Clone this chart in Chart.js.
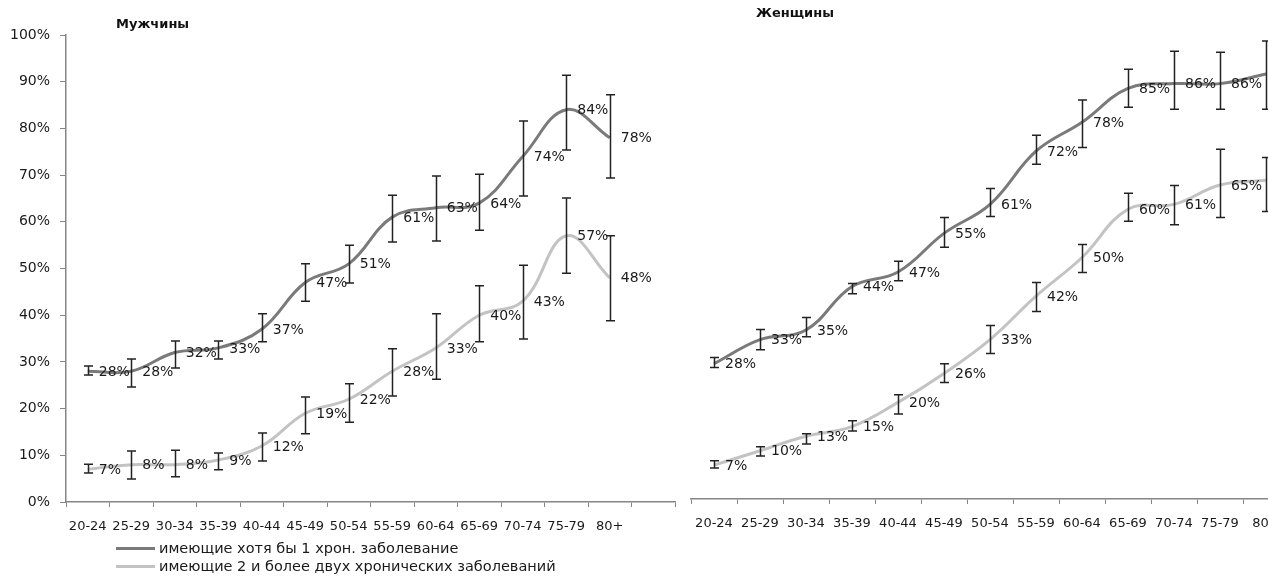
<!DOCTYPE html>
<html lang="ru">
<head>
<meta charset="utf-8">
<title>Распространённость хронических заболеваний по возрасту</title>
<script src="https://cdn.jsdelivr.net/npm/chart.js@4.4.1/dist/chart.umd.min.js"></script>
<style>
  html, body { margin: 0; padding: 0; background: #fff; overflow: hidden; }
  body { width: 1268px; height: 576px; position: relative; font-family: "DejaVu Sans", sans-serif; color: #1a1a1a; }
  .panel { position: absolute; top: 0; height: 576px; }
  #menBox { left: 0; width: 690px; }
  #womenBox { left: 680px; width: 620px; }
  .ttl { position: absolute; font-weight: bold; font-size: 13px; white-space: nowrap; color: #111; }
  .leg { position: absolute; left: 116px; font-size: 14.5px; white-space: nowrap; display: flex; align-items: center; }
  .leg i { display: inline-block; width: 39px; height: 3px; margin-right: 4px; }
</style>
</head>
<body>
<div class="panel" id="menBox"><canvas id="men" width="690" height="576"></canvas></div>
<div class="panel" id="womenBox"><canvas id="women" width="620" height="576"></canvas></div>
<div class="ttl" style="left:116px; top:16px;">Мужчины</div>
<div class="ttl" style="left:756px; top:5px;">Женщины</div>
<div class="leg" style="top:540px;"><i style="background:#7a7a7a"></i>имеющие хотя бы 1 хрон. заболевание</div>
<div class="leg" style="top:558px;"><i style="background:#c3c3c3"></i>имеющие 2 и более двух хронических заболеваний</div>
<script>
// Age groups (men's axis carries one extra empty slot at the end)
const ageGroups = ['20-24','25-29','30-34','35-39','40-44','45-49','50-54','55-59','60-64','65-69','70-74','75-79','80+'];

// Men: share with at least one chronic disease, % (with 95% interval bounds)
const menAny      = [28, 28, 32, 33, 37, 47, 51, 61, 63, 64, 74, 84, 78];
const menAnyLow   = [27.2, 24.6, 28.7, 30.6, 34.3, 43.0, 46.9, 55.7, 55.9, 58.2, 65.5, 75.4, 69.4];
const menAnyHigh  = [29.1, 30.6, 34.5, 34.5, 40.3, 51.0, 55.0, 65.7, 69.8, 70.2, 81.6, 91.4, 87.2];
// Men: two or more chronic diseases, %
const menMulti     = [7, 8, 8, 9, 12, 19, 22, 28, 33, 40, 43, 57, 48];
const menMultiLow  = [6.2, 4.9, 5.4, 6.9, 8.8, 14.6, 17.1, 22.7, 26.3, 34.3, 34.9, 49.0, 38.8];
const menMultiHigh = [8.1, 10.9, 11.1, 10.5, 14.8, 22.5, 25.3, 32.8, 40.3, 46.3, 50.7, 65.1, 57.0];

// Women: share with at least one chronic disease, %
const womenAny      = [28, 33, 35, 44, 47, 55, 61, 72, 78, 85, 86, 86, 88];
const womenAnyLow   = [27.2, 30.9, 33.6, 42.5, 45.2, 52.1, 58.5, 69.3, 72.8, 81.1, 80.7, 80.7, 80.7];
const womenAnyHigh  = [29.3, 35.1, 37.6, 44.6, 49.2, 58.3, 64.3, 75.3, 82.6, 89.0, 92.7, 92.5, 94.8];
// Women: two or more chronic diseases, %
const womenMulti     = [7, 10, 13, 15, 20, 26, 33, 42, 50, 60, 61, 65, 66];
const womenMultiLow  = [6.4, 8.9, 11.4, 14.1, 17.6, 24.1, 30.1, 38.8, 46.9, 57.5, 56.8, 58.3, 59.5];
const womenMultiHigh = [7.9, 10.8, 13.5, 16.2, 21.6, 28.0, 35.9, 44.8, 52.7, 63.3, 64.9, 72.4, 70.7];

const yTicks = [0, 10, 20, 30, 40, 50, 60, 70, 80, 90, 100];

Chart.defaults.font.family = '"DejaVu Sans", sans-serif';
Chart.defaults.color = '#1a1a1a';
Chart.defaults.animation = false;

const AXIS = '#868686';
const DARK = '#7a7a7a';
const LIGHT = '#c3c3c3';

// Interval whiskers with caps, placed through the value scale
const errorBars = {
  id: 'errorBars',
  afterDatasetsDraw(chart) {
    const ctx = chart.ctx, y = chart.scales.y;
    ctx.save();
    ctx.strokeStyle = '#222';
    ctx.lineWidth = 1.5;
    chart.data.datasets.forEach((ds, di) => {
      const meta = chart.getDatasetMeta(di);
      meta.data.forEach((pt, i) => {
        if (ds.low[i] == null) return;
        const x = Math.round(pt.x) + 0.5;
        const yl = y.getPixelForValue(ds.low[i]);
        const yh = y.getPixelForValue(ds.high[i]);
        ctx.beginPath();
        ctx.moveTo(x, yl); ctx.lineTo(x, yh);
        ctx.moveTo(x - 4.5, yl); ctx.lineTo(x + 4.5, yl);
        ctx.moveTo(x - 4.5, yh); ctx.lineTo(x + 4.5, yh);
        ctx.stroke();
      });
    });
    ctx.restore();
  }
};

// Percent labels to the right of each point
const valueLabels = {
  id: 'valueLabels',
  afterDraw(chart) {
    const ctx = chart.ctx;
    ctx.save();
    ctx.font = '14px "DejaVu Sans", sans-serif';
    ctx.fillStyle = '#1a1a1a';
    ctx.textAlign = 'left';
    ctx.textBaseline = 'middle';
    chart.data.datasets.forEach((ds, di) => {
      const meta = chart.getDatasetMeta(di);
      meta.data.forEach((pt, i) => {
        const v = ds.data[i];
        if (v == null) return;
        ctx.fillText(v + '%', pt.x + 11, pt.y + 1);
      });
    });
    ctx.restore();
  }
};

function series(label, data, low, high, color) {
  return {
    label, data, low, high,
    borderColor: color,
    borderWidth: 3,
    pointRadius: 0,
    tension: 0.4,
    fill: false
  };
}

function makeChart(id, labels, sets, opts) {
  return new Chart(document.getElementById(id), {
    type: 'line',
    data: { labels, datasets: sets },
    plugins: [errorBars, valueLabels],
    options: {
      responsive: false,
      maintainAspectRatio: false,
      layout: { padding: opts.padding },
      plugins: { legend: { display: false }, tooltip: { enabled: false } },
      scales: {
        x: {
          type: 'category',
          offset: true,
          grid: { display: true, drawOnChartArea: false, drawTicks: true, tickLength: 5, offset: true, color: AXIS, lineWidth: 1 },
          border: { display: true, color: AXIS, width: 1.5 },
          ticks: { font: { size: 13 }, color: '#1a1a1a', padding: 12, maxRotation: 0, autoSkip: false },
          afterFit: (s) => { s.height = opts.xHeight; }
        },
        y: {
          display: opts.showY,
          min: 0, max: 100,
          afterBuildTicks: (s) => { s.ticks = yTicks.map(v => ({ value: v })); },
          grid: { display: true, drawOnChartArea: false, drawTicks: true, tickLength: 6, color: AXIS },
          border: { display: true, color: AXIS, width: 1.5 },
          ticks: { font: { size: 14 }, color: '#1a1a1a', padding: 10, callback: (v) => v + '%' },
          afterFit: (s) => { s.width = opts.yWidth; }
        }
      }
    }
  });
}

makeChart('men', ageGroups.concat(['']), [
  series('имеющие хотя бы 1 хрон. заболевание', menAny, menAnyLow, menAnyHigh, DARK),
  series('имеющие 2 и более двух хронических заболеваний', menMulti, menMultiLow, menMultiHigh, LIGHT)
], { padding: { top: 35, right: 15, left: 0, bottom: 0 }, xHeight: 74, yWidth: 66, showY: true });

makeChart('women', ageGroups, [
  series('имеющие хотя бы 1 хрон. заболевание', womenAny, womenAnyLow, womenAnyHigh, DARK),
  series('имеющие 2 и более двух хронических заболеваний', womenMulti, womenMultiLow, womenMultiHigh, LIGHT)
], { padding: { top: 16, right: 11, left: 11, bottom: 0 }, xHeight: 77, yWidth: 0, showY: false });
</script>
</body>
</html>
